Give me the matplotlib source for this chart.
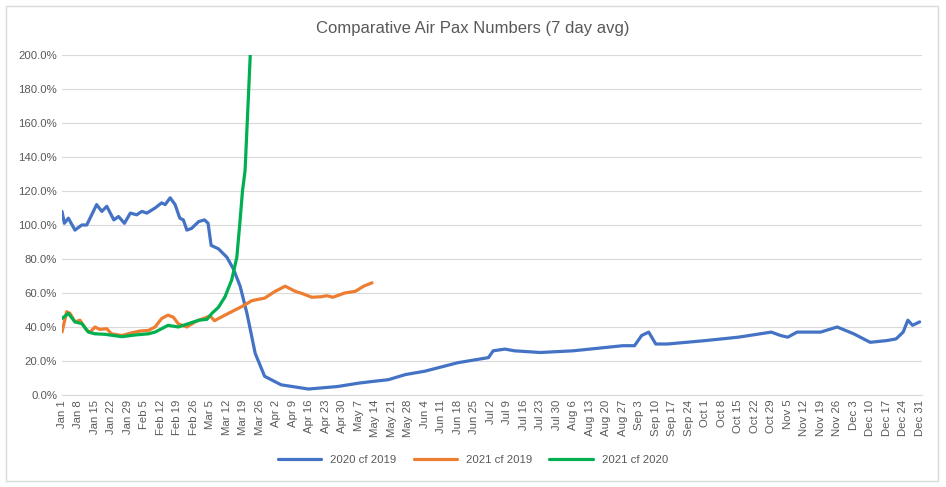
import numpy as np
import matplotlib
matplotlib.use("Agg")
import matplotlib.pyplot as plt
from matplotlib.ticker import FuncFormatter
import datetime as dt

# ── data (day of year from Jan 1, value in %) ─────────────────
days_2020 = [0, 1, 2.7, 5.5, 8.4, 10.5, 14.7, 16.9, 19, 22, 24, 26.5, 29, 31.7, 33.9, 36,
             39.5, 42.3, 43.8, 45.9, 48, 50, 51.5, 53, 55, 58, 60.5, 62, 63.3, 66.4, 70,
             72.8, 75.6, 78.5, 82, 86, 93, 104.6, 117, 126, 132, 138.5, 145.7, 154, 168,
             181, 183, 188, 192, 203, 217, 231, 238, 243, 246, 249, 252, 257, 273, 287,
             301, 305, 308, 312, 315, 322, 329, 336, 343, 350, 354, 357, 359, 361, 364]
vals_2020 = [108, 101, 104, 97, 100, 100, 112, 108, 111, 103, 105, 101, 107, 106, 108, 107,
             110, 113, 112, 116, 112, 104, 103, 97, 98, 102, 103, 101, 88, 86, 81,
             74, 64, 48, 24.5, 11, 6, 3.5, 5, 7, 8, 9, 12, 14, 19,
             22, 26, 27, 26, 25, 26, 28, 29, 29, 35, 37, 30, 30, 32, 34,
             37, 35, 34, 37, 37, 37, 40, 36, 31, 32, 33, 37, 44, 41, 43]

days_2021 = [0, 2, 3.4, 5.5, 7.6, 10.5, 11.9, 14, 16, 19, 21, 25.4, 29.6, 33, 36.7, 39.5,
             42.3, 45, 47.3, 49.4, 53, 56.5, 60, 62.9, 64.7, 67.8, 72, 76.3, 80.6, 86, 90.5,
             94.7, 99, 102.5, 106, 110, 112.4, 115, 120, 124.5, 128, 131.6]
vals_2021 = [37, 49, 48, 43, 44, 38, 37, 40, 38.6, 39, 36, 35, 36.6, 37.6, 38, 40,
             45, 47, 45.7, 41.8, 40, 43, 45, 46.5, 43.7, 46, 49, 52, 55.5, 57, 61,
             64, 61, 59.4, 57.5, 57.8, 58.4, 57.5, 60, 61, 64, 66]

days_2021v20 = [0, 2.7, 5.5, 8.4, 11.2, 14, 18.3, 25.4, 31, 36.7, 39.5, 42.3, 45, 49.4,
                53.7, 58, 61.5, 63.6, 66.4, 69.2, 72, 74.2, 75.6, 76.6, 77.7, 79.9, 81]
vals_2021v20 = [45, 48, 43, 42, 37, 36, 35.7, 34.3, 35.3, 36, 37, 39, 41, 40,
                42, 44, 44.5, 48, 51.6, 57.8, 67.6, 81, 103, 120, 132, 200, 240]

tick_days = list(range(0, 365, 7))
tick_labels = [(dt.date(2021, 1, 1) + dt.timedelta(days=d)).strftime("%b ") +
               str((dt.date(2021, 1, 1) + dt.timedelta(days=d)).day) for d in tick_days]

plt.rcParams["font.family"] = ["Liberation Sans", "DejaVu Sans"]

fig = plt.figure(figsize=(9.46, 4.87), dpi=100)
fig.patches.append(plt.Rectangle((6 / 946, 6 / 487), 932 / 946, 475 / 487,
                                 transform=fig.transFigure, fill=False,
                                 edgecolor="#d9d9d9", lw=1))
ax = fig.add_axes([62 / 946, 92 / 487, 860 / 946, 340 / 487])

style = dict(lw=2.3, solid_joinstyle="round", solid_capstyle="round")
ax.plot(days_2020, vals_2020, color="#4472C4", label="2020 cf 2019", **style)
ax.plot(days_2021, vals_2021, color="#ED7D31", label="2021 cf 2019", **style)
ax.plot(days_2021v20, vals_2021v20, color="#00B050", label="2021 cf 2020", **style)

ax.set_xlim(0, 365)
ax.set_ylim(0, 200)
ax.set_yticks(np.arange(0, 201, 20))
ax.yaxis.set_major_formatter(FuncFormatter(lambda v, p: f"{v:.1f}%"))
ax.set_xticks(tick_days)
ax.set_xticklabels(tick_labels, rotation=90, fontsize=8.2, color="#595959")
ax.tick_params(axis="y", labelsize=8.2, colors="#595959", length=0)
ax.tick_params(axis="x", length=0)
ax.grid(axis="y", color="#d9d9d9", lw=0.8)
ax.set_axisbelow(True)
for s in ["top", "right", "left"]:
    ax.spines[s].set_visible(False)
ax.spines["bottom"].set_color("#d9d9d9")

fig.text(0.5, 1 - 28 / 487, "Comparative Air Pax Numbers (7 day avg)",
         ha="center", va="center", fontsize=12, color="#595959")
fig.legend(loc="center", bbox_to_anchor=(0.5, 27 / 487), ncol=3, frameon=False,
           fontsize=8.2, handlelength=3.8, columnspacing=1.5, labelcolor="#595959")

plt.savefig("out.png", dpi=100)
